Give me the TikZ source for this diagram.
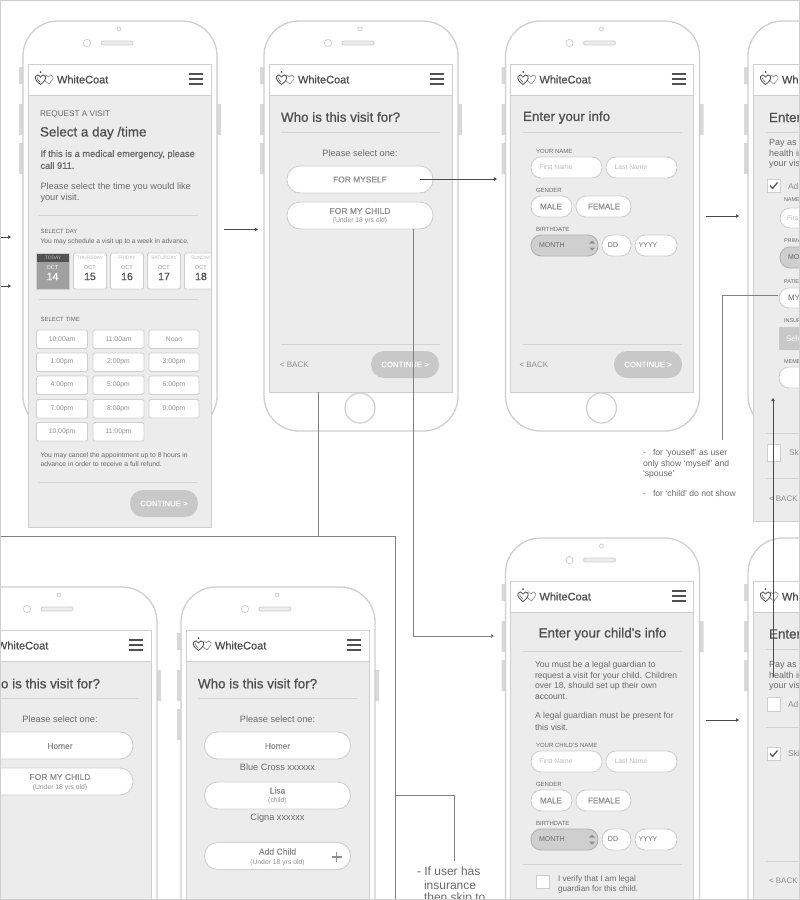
\documentclass[tikz,border=0pt]{standalone}
\usepackage{fontspec}
\setmainfont{Liberation Sans}
\newfontfamily\medfont[FakeBold=0.8]{Liberation Sans}
\usetikzlibrary{arrows.meta}
\definecolor{edgeg}{HTML}{CFCFCF}
\definecolor{panelg}{HTML}{ECECEC}
\definecolor{btng}{HTML}{C8C8C8}
\definecolor{sideg}{HTML}{D9D9D9}
\definecolor{darkt}{HTML}{505050}
\definecolor{midt}{HTML}{6A6A6A}
\definecolor{softt}{HTML}{8F8F8F}
\definecolor{faintt}{HTML}{BBBBBB}
\definecolor{wire}{HTML}{4A4A4A}
\definecolor{wiregray}{HTML}{808080}
\newcounter{tn}
\newcommand{\fs}[1]{\fontsize{#1}{#1}\selectfont}
\newcommand{\tx}[5][midt]{\stepcounter{tn}\node[lab,text=#1] (t\arabic{tn}) at ({#2},{#3}) {\fs{#4}#5};}
\newcommand{\cx}[5][midt]{\stepcounter{tn}\node[lab,anchor=center,text=#1] (t\arabic{tn}) at ({#2},{#3}) {\fs{#4}#5};}
\newcommand{\mtx}[5][darkt]{\stepcounter{tn}\node[lab,text=#1] (t\arabic{tn}) at ({#2},{#3}) {\fs{#4}\medfont #5};}
\newcommand{\mcx}[5][darkt]{\stepcounter{tn}\node[lab,anchor=center,text=#1] (t\arabic{tn}) at ({#2},{#3}) {\fs{#4}\medfont #5};}
\newcommand{\hr}[3]{\draw[rulest] (#1,#3) -- (#2,#3);}
\newcommand{\pill}[4]{\draw[pillst] (#1,#2) rectangle (#3,#4);}
\newcommand{\gpill}[4]{\draw[pillst,fill=btng!80!panelg,draw=softt!70] (#1,#2) rectangle (#3,#4);}
\newcommand{\contbtn}[3]{\fill[btng,rounded corners=13pt] (#1,#2) rectangle ++(68,27);
  \mcx[white]{#1+34}{#2+13.5}{7.8}{CONTINUE >}}
\newcommand{\chk}[5]{\draw[boxst] (#1,#2) rectangle (#3,#4);
  \ifnum#5=1 \draw[darkt,line width=1.2pt] (#1+3,#2+6.5) -- (#1+5.5,#2+9.5) -- (#1+10.5,#2+3.5);\fi}
\newcommand{\logo}[3]{\begin{scope}[shift={(#1,#2)}]
  \draw[softt,line width=.6pt] (14,5) .. controls (11,3) and (7.5,0) .. (8.5,-2.5) .. controls (9.5,-5) and (12.5,-4.5) .. (13.5,-2) .. controls (14.5,-4.5) and (17,-5) .. (18,-2.5) .. controls (18.5,0) and (16,3) .. (14,5);
  \draw[darkt,line width=.8pt,fill=white] (5.5,5.5) .. controls (2,3) and (-.5,0) .. (.5,-2.5) .. controls (1.5,-5) and (4.5,-4.5) .. (5.5,-2) .. controls (6.5,-4.5) and (9.5,-5) .. (10.5,-2.5) .. controls (11.5,0) and (9,3) .. (5.5,5.5);
  \draw[darkt,line width=.5pt] (5.5,3.2) .. controls (3.5,1.5) and (2,0) .. (2.2,-1.5);
  \fill[darkt] (5.5,-7) circle (1);
  \mtx[darkt]{22}{.5}{11}{#3}
  \end{scope}}
\newcommand{\phone}[4]{\begin{scope}[shift={(#1,#2)}]
  \fill[sideg] (-4,67) rectangle (0,84) (-4,104) rectangle (0,135) (-4,143) rectangle (0,174) (194,104) rectangle (198,135);
  \draw[edgeg,line width=1.3pt,fill=white,rounded corners=35pt] (0,21) rectangle (194,431);
  \draw[edgeg,line width=.8pt] (96,29) circle (2);
  \draw[edgeg,line width=.8pt] (64,43) circle (3.6);
  \draw[edgeg,line width=.8pt,rounded corners=2pt,fill=panelg] (78,41) rectangle (110,45);
  \draw[edgeg,line width=1.2pt] (96,408) circle (15);
  \draw[edgeg,line width=1pt,fill=panelg] (5,95) rectangle (188,#3);
  \draw[edgeg,line width=1pt,fill=white] (5,64) rectangle (188,95);
  \draw[darkt,line width=1.1pt] (166,74) -- (180,74) (166,79) -- (180,79) (166,84) -- (180,84);
  \logo{12}{79}{#4}
  \end{scope}}
\newcommand{\daycard}[4]{\draw[boxst,rounded corners=1.5pt] (#1,253) rectangle (#2,289);
  \cx[faintt]{(#1+#2)/2}{258}{4.8}{#3}
  \cx[softt]{(#1+#2)/2}{267.5}{5.5}{OCT}
  \mcx{(#1+#2)/2}{276.5}{10.5}{#4}}
\newcommand{\timebtn}[4]{\draw[boxst,rounded corners=1.5pt] (#1,#2) rectangle (#1+#3,#2+18.5);
  \cx[softt]{#1+#3/2}{#2+9.3}{6.8}{#4}}
\newcommand{\formrows}[1]{% #1 = y of name label
  \pgfmathsetmacro{\yy}{#1}
  \pill{531}{\yy+6}{602}{\yy+27}\cx[faintt]{556}{\yy+16.5}{6.8}{First Name}
  \pill{606}{\yy+6}{677}{\yy+27}\cx[faintt]{631}{\yy+16.5}{6.8}{Last Name}
  \tx{536}{\yy+39}{6}{GENDER}
  \pill{531}{\yy+45}{572}{\yy+66}\mcx[softt]{551}{\yy+55.5}{8}{MALE}
  \pill{576}{\yy+45}{631}{\yy+66}\mcx[softt]{604}{\yy+55.5}{8}{FEMALE}
  \tx{536}{\yy+78}{6}{BIRTHDATE}
  \gpill{531}{\yy+84}{598}{\yy+105}\tx{539}{\yy+94.5}{7}{MONTH}
  \fill[softt] (589,\yy+92.5) -- (592,\yy+89.5) -- (595,\yy+92.5) -- cycle (589,\yy+96.5) -- (592,\yy+99.5) -- (595,\yy+96.5) -- cycle;
  \pill{602}{\yy+84}{631}{\yy+105}\cx{613}{\yy+94.5}{7}{DD}
  \pill{635}{\yy+84}{677}{\yy+105}\cx{648}{\yy+94.5}{7}{YYYY}}
\tikzset{
  lab/.style={anchor=west,inner sep=0pt,outer sep=0pt},
  rulest/.style={draw=edgeg!85!panelg,line width=.9pt},
  pillst/.style={draw=edgeg,line width=.9pt,fill=white,rounded corners=10pt},
  boxst/.style={draw=edgeg,line width=.9pt,fill=white},
  conn/.style={draw=wiregray,line width=.85pt},
  thinconn/.style={draw=wire,line width=.7pt},
  arr/.style={thinconn,-{Triangle[length=3pt,width=3.4pt]}}
}
\begin{document}
\begin{tikzpicture}[x=1pt,y=-1pt]
\useasboundingbox (0,0) rectangle (800,900);
\clip (0,0) rectangle (800,900);
\fill[white] (0,0) rectangle (800,900);
% ---- phones ----
\phone{23}{0}{527}{WhiteCoat}
\phone{264}{0}{392}{WhiteCoat}
\phone{505.5}{0}{392}{WhiteCoat}
\phone{748}{0}{521}{Wh}
\phone{-37}{566}{958}{WhiteCoat}
\phone{181}{566}{958}{WhiteCoat}
\phone{505.5}{517}{958}{WhiteCoat}
\phone{748}{517}{958}{Wh}
% ---- phone 1 ----
\tx{40}{114}{8.2}{REQUEST A VISIT}
\mtx{40}{133}{13.4}{Select a day /time}
\mtx[midt]{40.5}{154.5}{9.3}{If this is a medical emergency, please}
\mtx[midt]{40.5}{165.5}{9.3}{call 911.}
\tx{40.5}{187}{9.2}{Please select the time you would like}
\tx{40.5}{198}{9.2}{your visit.}
\hr{39}{198}{215}
\tx{40.5}{231.5}{6}{SELECT DAY}
\tx{40.5}{241.5}{6.65}{You may schedule a visit up to a week in advance.}
\draw[draw=edgeg,fill=softt!85!white] (36.5,253) rectangle (69.5,289);
\fill[wire!95!white] (37,253.5) rectangle (69,262);
\cx[faintt]{53}{258}{4.8}{TODAY}
\cx[white]{52.5}{267.5}{5.5}{OCT}
\mcx[white]{52.5}{276.5}{10.5}{14}
\daycard{73.5}{106.5}{THURSDAY}{15}
\daycard{110.5}{143.5}{FRIDAY}{16}
\daycard{147.5}{180.5}{SATURDAY}{17}
\begin{scope}
\clip (150,250) rectangle (210.5,295);
\daycard{184.5}{217.5}{SUNDAY}{18}
\end{scope}
\hr{39}{198}{299}
\tx{40.5}{319}{6}{SELECT TIME}
\timebtn{36.5}{330}{51}{10:00am}\timebtn{93}{330}{51}{11:00am}\timebtn{149}{330}{50}{Noon}
\timebtn{36.5}{353}{51}{1:00pm}\timebtn{93}{353}{51}{2:00pm}\timebtn{149}{353}{50}{3:00pm}
\timebtn{36.5}{376}{51}{4:00pm}\timebtn{93}{376}{51}{5:00pm}\timebtn{149}{376}{50}{6:00pm}
\timebtn{36.5}{399.5}{51}{7:00pm}\timebtn{93}{399.5}{51}{8:00pm}\timebtn{149}{399.5}{50}{9:00pm}
\timebtn{36.5}{422.5}{51}{10:00pm}\timebtn{93}{422.5}{51}{11:00pm}
\tx{40.5}{456}{6.8}{You may cancel the appointment up to 8 hours in}
\tx{40.5}{464.5}{6.8}{advance in order to receive a full refund.}
\hr{38}{197}{482}
\contbtn{130}{490}{}
% ---- phone 2 ----
\mtx{281}{117}{13.4}{Who is this visit for?}
\hr{281}{440}{132}
\cx{360}{153}{9.2}{Please select one:}
\draw[pillst,rounded corners=13pt] (287,166) rectangle (433,193);
\mcx[softt]{360}{179.5}{8.4}{FOR MYSELF}
\draw[pillst,rounded corners=13pt] (287,202) rectangle (433,229);
\mcx[softt]{360}{211}{8.5}{FOR MY CHILD}
\cx[softt]{360}{221}{6.8}{(Under 18 yrs old)}
\hr{281}{440}{344}
\tx[softt]{280}{364.5}{8}{< BACK}
\contbtn{371}{351}{}
% ---- phone 3 ----
\mtx{523}{117.5}{13.4}{Enter your info}
\hr{523}{682}{132}
\tx{536}{151}{6}{YOUR NAME}
\formrows{151}
\hr{523}{682}{344}
\tx[softt]{519.5}{364.5}{8}{< BACK}
\contbtn{614}{351}{}
% ---- phone 4 ----
\mtx{769}{117.5}{13.4}{Enter}
\hr{765.5}{800}{132}
\tx{769}{143}{9}{Pay as l}
\tx{769}{153.5}{9}{health in}
\tx{769}{164}{9}{your vis}
\chk{767}{179}{780}{192}{1}
\tx[softt]{788}{186}{8.5}{Ad}
\tx{784}{200}{5.5}{NAME}
\pill{780}{208}{830}{228}\tx[faintt]{787}{218}{6.8}{Firs}
\tx{784}{240.5}{5.5}{PRIMA}
\gpill{780}{247}{830}{268}\tx{788}{257.5}{7}{MO}
\tx{784}{281.5}{5.5}{PATIE}
\pill{779}{288}{830}{308}\tx{788}{298}{8}{MY}
\tx{784}{321}{5.5}{INSUR}
\fill[btng,rounded corners=1pt] (779,327) rectangle (830,350);
\tx[white]{786}{338.5}{8}{Sele}
\tx{784}{361.5}{5.5}{MEMB}
\pill{779}{367}{830}{388}
\hr{765.5}{800}{433}
\chk{767}{444}{780}{461}{0}
\tx[softt]{789}{452}{8.5}{Ski}
\hr{765.5}{800}{478}
\tx[softt]{769}{498.5}{8}{< BACK}
% ---- bottom-left phones ----
\mtx{1}{683.5}{13.4}{o is this visit for?}
\hr{0}{139}{698}
\cx{60}{719}{9.2}{Please select one:}
\draw[pillst,rounded corners=13pt] (-14,732) rectangle (133,759);
\mcx[softt]{60}{746}{8.4}{Homer}
\draw[pillst,rounded corners=13pt] (-14,768) rectangle (133,795);
\mcx[softt]{60}{777}{8.5}{FOR MY CHILD}
\cx[softt]{60}{787.5}{6.8}{(Under 18 yrs old)}
\mtx{198}{683.5}{13.4}{Who is this visit for?}
\hr{198}{357}{698}
\cx{277.5}{719}{9.2}{Please select one:}
\draw[pillst,rounded corners=13pt] (204.5,732) rectangle (350.5,759);
\mcx[softt]{277.5}{746}{8.4}{Homer}
\cx{277.5}{767}{9.2}{Blue Cross xxxxxx}
\draw[pillst,rounded corners=13pt] (204.5,782) rectangle (350.5,809);
\mcx[softt]{277.5}{790.5}{8.4}{Lisa}
\cx[softt]{277.5}{800.5}{6.8}{(child)}
\cx{277.5}{818}{9.2}{Cigna xxxxxx}
\draw[pillst,rounded corners=13pt] (204.5,842.5) rectangle (350.5,869.5);
\mcx[softt]{277.5}{851.5}{8.6}{Add Child}
\cx[softt]{277.5}{862.5}{6.8}{(Under 18 yrs old)}
\draw[softt,line width=1.2pt] (331.5,857) -- (341.5,857) (336.5,852) -- (336.5,862);
% ---- child info ----
\mcx{602.5}{634}{13.4}{Enter your child's info}
\hr{523}{682}{651}
\tx{535}{665.5}{8.6}{You must be a legal guardian to}
\tx{535}{676}{8.6}{request a visit for your child. Children}
\tx{535}{686}{8.6}{over 18, should set up their own}
\tx{535}{696.5}{8.6}{account.}
\tx{535}{716.5}{8.6}{A legal guardian must be present for}
\tx{535}{727}{8.6}{this visit.}
\tx{536}{745}{6}{YOUR CHILD'S NAME}
\formrows{745}
\hr{523}{682}{864}
\chk{536}{875}{549}{888}{0}
\tx{558}{879.5}{8.2}{I verify that I am legal}
\tx{558}{889.5}{8.2}{guardian for this child.}
% ---- lower right phone ----
\mtx{769}{634}{13.4}{Enter}
\hr{765.5}{800}{649}
\tx{769}{665}{9}{Pay as l}
\tx{769}{675.5}{9}{health in}
\tx{769}{686}{9}{your vis}
\chk{767}{697}{780}{711}{0}
\tx[softt]{788}{704}{8.5}{Ad}
\hr{765.5}{800}{727}
\chk{767}{747}{780}{760}{1}
\tx[softt]{788}{753.5}{8.5}{Ski}
\hr{765.5}{800}{861}
\tx[softt]{769}{881}{8}{< BACK}
% ---- notes ----
\tx{643}{453.5}{8.6}{-\ \ \ for `youself' as user}
\tx{643}{464}{8.6}{only show `myself' and}
\tx{643}{474}{8.6}{`spouse'}
\tx{643}{493}{8.6}{-\ \ \ for `child' do not show}
\tx{417}{871}{12}{- If user has}
\tx{424}{885}{12}{insurance}
\tx{424}{898.5}{12}{then skip to}
% ---- connectors ----
\coordinate (inA) at (0,237); \coordinate (inAe) at (11,237);
\coordinate (inB) at (0,286); \coordinate (inBe) at (11,286);
\coordinate (p1out) at (224,229.5); \coordinate (p2in) at (258,229.5);
\coordinate (myselfout) at (420,179); \coordinate (p3in) at (497,179);
\coordinate (p3out) at (706,216); \coordinate (p4in) at (739,216);
\coordinate (childout) at (413,229); \coordinate (childcorner) at (413,636); \coordinate (p5in) at (494,636);
\coordinate (p2bot) at (318,392); \coordinate (busA) at (318,536); \coordinate (busL) at (0,536);
\coordinate (busR) at (395,536); \coordinate (busB) at (395,900);
\coordinate (lowT) at (395,795); \coordinate (lowC) at (454,795); \coordinate (lowN) at (454,861);
\coordinate (patient) at (778,295.5); \coordinate (patC) at (722,295.5); \coordinate (patN) at (722,440);
\coordinate (p5out) at (706,720); \coordinate (p6in) at (739,720);
\coordinate (upS) at (773,677); \coordinate (upE) at (773,398);
\draw[arr] (inA) -- (inAe);
\draw[arr] (inB) -- (inBe);
\draw[arr] (p1out) -- (p2in);
\draw[arr] (myselfout) -- (p3in);
\draw[arr] (p3out) -- (p4in);
\draw[conn,-{Triangle[length=3pt,width=3.4pt]}] (childout) -- (childcorner) -- (p5in);
\draw[conn] (p2bot) -- (busA);
\draw[conn] (busL) -- (busR) -- (busB);
\draw[conn] (lowT) -- (lowC) -- (lowN);
\draw[conn] (patient) -- (patC) -- (patN);
\draw[arr] (p5out) -- (p6in);
\draw[arr] (upS) -- (upE);
\draw[edgeg,line width=2pt] (0,0) rectangle (800,900);
\end{tikzpicture}
\end{document}
